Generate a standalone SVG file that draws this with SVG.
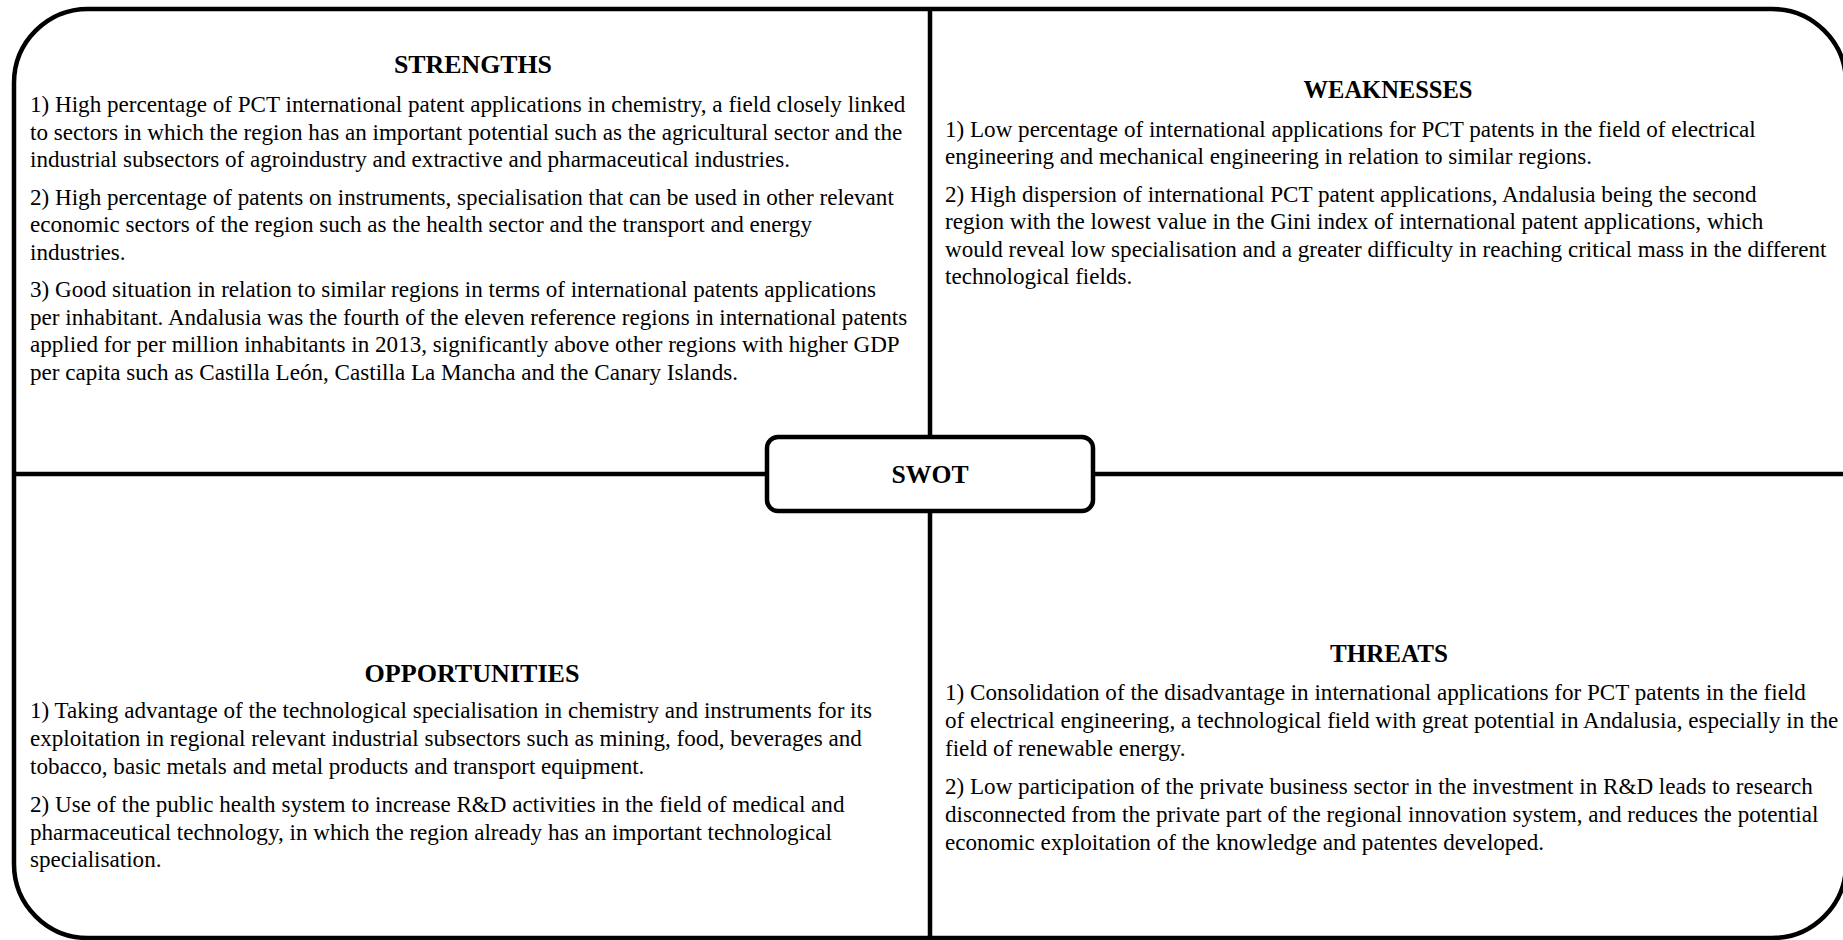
<svg xmlns="http://www.w3.org/2000/svg" width="1843" height="940" viewBox="0 0 1843 940">
<style>
.frame{fill:none;stroke:#000;stroke-width:4.5}
.line{fill:none;stroke:#000;stroke-width:4.5}
.box{fill:#fff;stroke:#000;stroke-width:4.5}
.h{font-family:"Liberation Serif","Times New Roman",serif;font-weight:bold;font-size:25.5px;fill:#000;text-anchor:middle}
.t{font-family:"Liberation Serif","Times New Roman",serif;font-size:23.1px;fill:#000}
</style>
<rect width="1843" height="940" fill="#fff"/>
<rect id="frame" class="frame" x="14" y="9" width="1832" height="929" rx="74" ry="74"/>
<g id="connectors">
<line class="line" x1="930" y1="9" x2="930" y2="437"/>
<line class="line" x1="930" y1="511" x2="930" y2="940"/>
<line class="line" x1="14" y1="474" x2="767" y2="474"/>
<line class="line" x1="1093" y1="474" x2="1846" y2="474"/>
</g>
<g id="strengths">
<text class="h" x="473" y="72.7" textLength="158" lengthAdjust="spacingAndGlyphs">STRENGTHS</text>
<text class="t" x="30" y="112">1) High percentage of PCT international patent applications in chemistry, a field closely linked</text>
<text class="t" x="30" y="139.7">to sectors in which the region has an important potential such as the agricultural sector and the</text>
<text class="t" x="30" y="167.4">industrial subsectors of agroindustry and extractive and pharmaceutical industries.</text>
<text class="t" x="30" y="204.5">2) High percentage of patents on instruments, specialisation that can be used in other relevant</text>
<text class="t" x="30" y="232.2">economic sectors of the region such as the health sector and the transport and energy</text>
<text class="t" x="30" y="259.9">industries.</text>
<text class="t" x="30" y="297">3) Good situation in relation to similar regions in terms of international patents applications</text>
<text class="t" x="30" y="324.7">per inhabitant. Andalusia was the fourth of the eleven reference regions in international patents</text>
<text class="t" x="30" y="352.4">applied for per million inhabitants in 2013, significantly above other regions with higher GDP</text>
<text class="t" x="30" y="380.1">per capita such as Castilla León, Castilla La Mancha and the Canary Islands.</text>
</g>
<g id="weaknesses">
<text class="h" x="1388" y="97.7" textLength="169" lengthAdjust="spacingAndGlyphs">WEAKNESSES</text>
<text class="t" x="945" y="136.5">1) Low percentage of international applications for PCT patents in the field of electrical</text>
<text class="t" x="945" y="164">engineering and mechanical engineering in relation to similar regions.</text>
<text class="t" x="945" y="201.5">2) High dispersion of international PCT patent applications, Andalusia being the second</text>
<text class="t" x="945" y="229">region with the lowest value in the Gini index of international patent applications, which</text>
<text class="t" x="945" y="256.5">would reveal low specialisation and a greater difficulty in reaching critical mass in the different</text>
<text class="t" x="945" y="284">technological fields.</text>
</g>
<g id="opportunities">
<text class="h" x="472" y="682" textLength="215" lengthAdjust="spacingAndGlyphs">OPPORTUNITIES</text>
<text class="t" x="30" y="717.5">1) Taking advantage of the technological specialisation in chemistry and instruments for its</text>
<text class="t" x="30" y="745.5">exploitation in regional relevant industrial subsectors such as mining, food, beverages and</text>
<text class="t" x="30" y="773.5">tobacco, basic metals and metal products and transport equipment.</text>
<text class="t" x="30" y="811.5">2) Use of the public health system to increase R&amp;D activities in the field of medical and</text>
<text class="t" x="30" y="839.5">pharmaceutical technology, in which the region already has an important technological</text>
<text class="t" x="30" y="867">specialisation.</text>
</g>
<g id="threats">
<text class="h" x="1389" y="662" textLength="118" lengthAdjust="spacingAndGlyphs">THREATS</text>
<text class="t" x="945" y="700">1) Consolidation of the disadvantage in international applications for PCT patents in the field</text>
<text class="t" x="945" y="728">of electrical engineering, a technological field with great potential in Andalusia, especially in the</text>
<text class="t" x="945" y="756">field of renewable energy.</text>
<text class="t" x="945" y="793.5">2) Low participation of the private business sector in the investment in R&amp;D leads to research</text>
<text class="t" x="945" y="821.5">disconnected from the private part of the regional innovation system, and reduces the potential</text>
<text class="t" x="945" y="849.5">economic exploitation of the knowledge and patentes developed.</text>
</g>
<g id="swot">
<rect class="box" x="767" y="437" width="326" height="74" rx="11" ry="11"/>
<text class="h" x="930" y="482.7" textLength="77" lengthAdjust="spacingAndGlyphs">SWOT</text>
</g>
</svg>
